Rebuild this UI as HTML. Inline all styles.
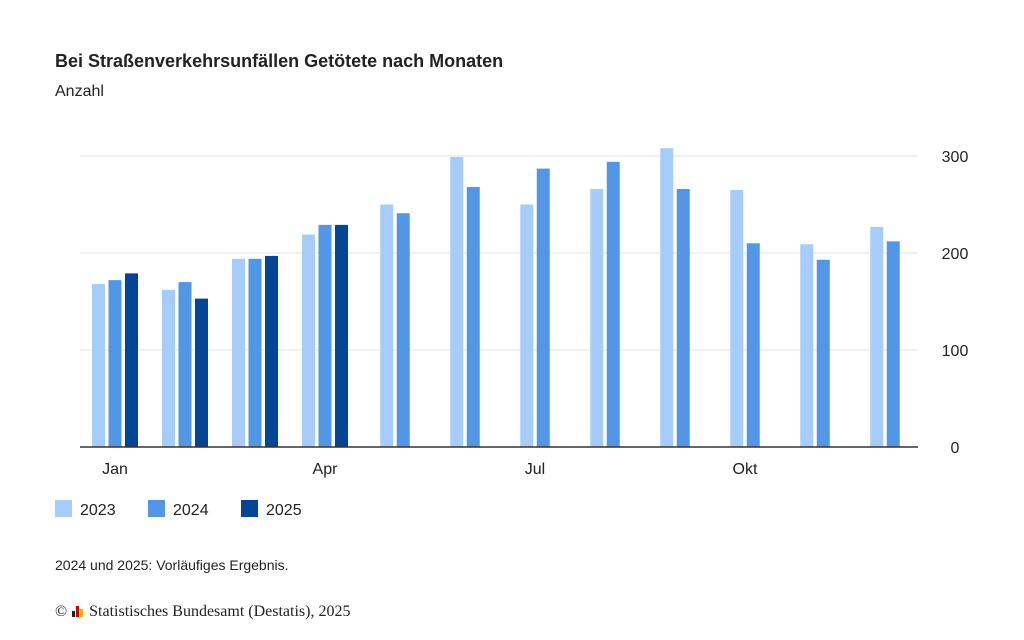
<!DOCTYPE html>
<html><head><meta charset="utf-8"><style>
body{margin:0;width:1024px;height:640px;background:#fff;font-family:"Liberation Sans",sans-serif;overflow:hidden;position:relative}
.t{position:absolute;white-space:nowrap}
</style></head><body>
<div class="t" style="left:55px;top:51px;font-size:18px;font-weight:bold;color:#222">Bei Straßenverkehrsunfällen Getötete nach Monaten</div>
<div class="t" style="left:55px;top:83px;font-size:16px;color:#222">Anzahl</div>
<svg id="chart" width="1024" height="640" style="position:absolute;left:0;top:0"></svg>
<div class="t" style="left:55px;top:557px;font-size:14px;color:#222">2024 und 2025: Vorläufiges Ergebnis.</div>
<div class="t" style="left:55px;top:603px;font-size:16px;font-family:'Liberation Serif',serif;color:#222">© <span style="display:inline-block;width:14px;height:12px;position:relative;vertical-align:-1px"><i style="position:absolute;left:1px;bottom:0;width:3px;height:6px;background:#222"></i><i style="position:absolute;left:5px;bottom:0;width:3px;height:11px;background:#c00"></i><i style="position:absolute;left:9px;bottom:0;width:3px;height:8px;background:#e8b400"></i></span> Statistisches Bundesamt (Destatis), 2025</div>
<script>
const months=["Jan","Feb","Mär","Apr","Mai","Jun","Jul","Aug","Sep","Okt","Nov","Dez"];
const v2023=[168,162,194,219,250,299,250,266,308,265,209,227];
const v2024=[172,170,194,229,241,268,287,294,266,210,193,212];
const v2025=[179,153,197,229];
const yTicks=[0,100,200,300];
const xLabels=["Jan","","","Apr","","","Jul","","","Okt","",""];
const series=[{n:"2023",d:v2023,c:"#a6cdfa"},{n:"2024",d:v2024,c:"#5296e6"},{n:"2025",d:v2025,c:"#034695"}];
const svg=document.getElementById('chart'),NS="http://www.w3.org/2000/svg";
const y0=447,ppu=0.97,x0=80,x1=918,step=70,bw=13,gap=16.5;
const y=v=>y0-v*ppu;
const xc=i=>115+i*step;
function mk(t,a){const e=document.createElementNS(NS,t);for(const k in a)e.setAttribute(k,a[k]);svg.appendChild(e);return e;}
yTicks.forEach(t=>{
 if(t>0){const l=mk('line',{x1:x0,x2:x1,y1:y(t),y2:y(t),stroke:'#e3e3e3','stroke-width':1});
 
 }
 const tx=mk('text',{x:955,y:y(t)+6,'text-anchor':'middle','font-size':16,fill:'#222'});tx.textContent=t;
 
 
});
months.forEach((m,i)=>{
 const act=series.filter(s=>s.d[i]!=null);
 const n=act.length;
 act.forEach((s,j)=>{
  const cx=xc(i)+(j-(n-1)/2)*gap;
  const r=mk('rect',{x:cx-bw/2,y:y(s.d[i]),width:bw,height:s.d[i]*ppu,fill:s.c});
  
  
 });
 if(xLabels[i]){const tx=mk('text',{x:xc(i),y:474,'text-anchor':'middle','font-size':16,fill:'#222'});tx.textContent=xLabels[i];
 
 }
});
const ax=mk('line',{x1:x0,x2:x1,y1:y0,y2:y0,stroke:'#333','stroke-width':1.5});


series.forEach((s,i)=>{
 const lx=55+i*93;
 const r=mk('rect',{x:lx,y:500,width:17,height:17,fill:s.c});
 
 
 const tx=mk('text',{x:lx+25,y:515,'font-size':16,fill:'#222'});tx.textContent=s.n;
 
 
});
</script>
</body></html>
